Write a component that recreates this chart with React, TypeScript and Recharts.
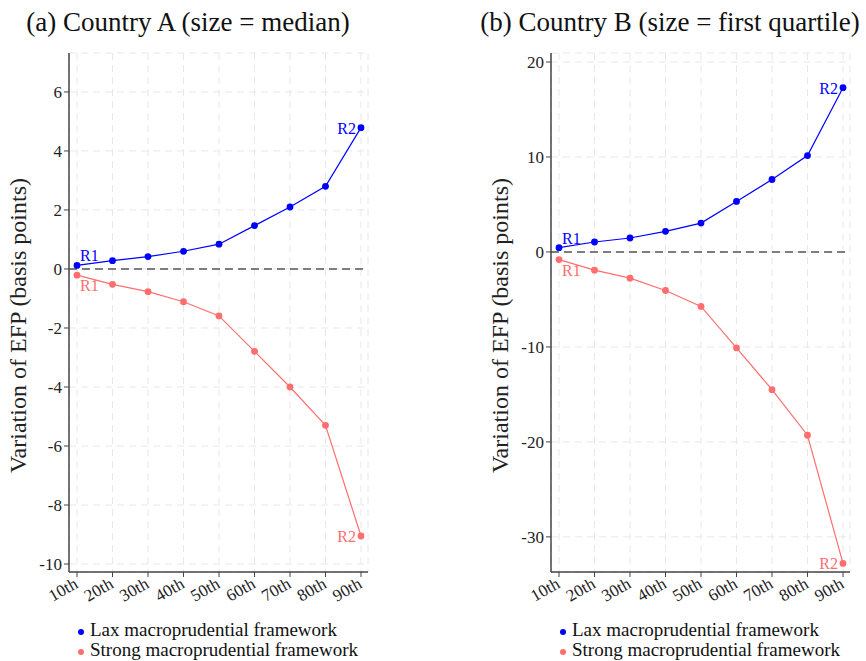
import { LineChart, Line, XAxis, YAxis, CartesianGrid, ReferenceLine } from "recharts"

const percentiles = ["10th", "20th", "30th", "40th", "50th", "60th", "70th", "80th", "90th"]

// Country A (size = median)
const laxA = [0.12, 0.28, 0.42, 0.6, 0.84, 1.47, 2.1, 2.8, 4.79]
const strongA = [-0.21, -0.52, -0.77, -1.11, -1.59, -2.79, -4.0, -5.3, -9.05]
const ticksA = [-10, -8, -6, -4, -2, 0, 2, 4, 6]

// Country B (size = first quartile)
const laxB = [0.45, 1.05, 1.47, 2.17, 3.04, 5.32, 7.63, 10.15, 17.3]
const strongB = [-0.8, -1.92, -2.76, -4.06, -5.74, -10.1, -14.5, -19.3, -32.8]
const ticksB = [-30, -20, -10, 0, 10, 20]

const BLUE = "#0000ff"
const SALMON = "#ff6e6e"
const FONT = "Liberation Serif"
const AXIS = "#444"

const AngledTick = ({ x, y, payload }: any) => (
  <g transform={`translate(${x + 2},${y + 8})`}>
    <text x={0} y={0} textAnchor="end" fill="#222" fontSize={17} fontFamily={FONT} transform="rotate(-30)">
      {payload.value}
    </text>
  </g>
)

const makeDot = (color: string, below: boolean) => (p: any) => {
  const { cx, cy, index } = p
  let label = null
  if (index === 0) {
    label = (
      <text x={cx + 3} y={below ? cy + 16 : cy - 4} fill={color} fontSize={16} fontFamily={FONT}>
        R1
      </text>
    )
  } else if (index === percentiles.length - 1) {
    label = (
      <text x={cx - 5} y={cy + 6} textAnchor="end" fill={color} fontSize={16} fontFamily={FONT}>
        R2
      </text>
    )
  }
  return (
    <g key={`d-${index}`}>
      <circle cx={cx} cy={cy} r={3.4} fill={color} />
      {label}
    </g>
  )
}

const YLabel = (props: any) => {
  const vb = props.viewBox
  const x = vb.x + 26
  const y = vb.y + vb.height / 2 + 13
  return (
    <text x={x} y={y} transform={`rotate(-90, ${x}, ${y})`} textAnchor="middle" fill="#222" fontSize={24} fontFamily={FONT}>
      Variation of EFP (basis points)
    </text>
  )
}

function Panel({ left, title, titleCenter, lax, strong, domain, ticks }: any) {
  const data = percentiles.map((p, i) => ({ name: p, lax: lax[i], strong: strong[i] }))
  return (
    <>
      <div
        style={{
          position: "absolute",
          left: titleCenter - 250,
          width: 500,
          top: 7,
          textAlign: "center",
          fontFamily: FONT,
          fontSize: 27,
          whiteSpace: "nowrap",
          color: "#111",
        }}
      >
        {title}
      </div>
      <div style={{ position: "absolute", left, top: 0 }}>
        <LineChart width={384} height={640} data={data} margin={{ top: 53, right: 16, bottom: 0, left: 0 }}>
          <CartesianGrid stroke="#e8e8e8" strokeDasharray="7 5" />
          <XAxis
            dataKey="name"
            padding={{ left: 8, right: 7 }}
            height={68}
            tickSize={5}
            tickLine={{ stroke: AXIS }}
            axisLine={{ stroke: AXIS, strokeWidth: 1.5 }}
            interval={0}
            tick={<AngledTick />}
          />
          <YAxis
            type="number"
            domain={domain}
            ticks={ticks}
            allowDataOverflow
            width={69}
            tickSize={5}
            tickLine={{ stroke: AXIS }}
            axisLine={{ stroke: AXIS, strokeWidth: 1.5 }}
            tick={{ fontSize: 17, fill: "#222", fontFamily: FONT }}
            label={YLabel}
          />
          <ReferenceLine y={0} stroke="#555" strokeWidth={1.5} strokeDasharray="8 5" />
          <Line
            dataKey="lax"
            stroke={BLUE}
            strokeWidth={1.2}
            dot={makeDot(BLUE, false)}
            activeDot={false}
            isAnimationActive={false}
          />
          <Line
            dataKey="strong"
            stroke={SALMON}
            strokeWidth={1.2}
            dot={makeDot(SALMON, true)}
            activeDot={false}
            isAnimationActive={false}
          />
        </LineChart>
      </div>
      <Legend left={left + 81} />
    </>
  )
}

function Legend({ left }: { left: number }) {
  const rows = [
    { label: "Lax macroprudential framework", color: BLUE },
    { label: "Strong macroprudential framework", color: SALMON },
  ]
  return (
    <>
      {rows.map((r, i) => (
        <div
          key={r.label}
          style={{
            position: "absolute",
            left: left - 3,
            top: 620 + i * 20,
            height: 20,
            lineHeight: "20px",
            fontFamily: FONT,
            fontSize: 19,
            color: "#111",
            whiteSpace: "nowrap",
          }}
        >
          <span
            style={{
              display: "inline-block",
              width: 6,
              height: 6,
              borderRadius: 3,
              background: r.color,
              marginRight: 6,
              verticalAlign: "1px",
            }}
          />
          {r.label}
        </div>
      ))}
    </>
  )
}

export default function App() {
  return (
    <div style={{ position: "absolute", left: 0, top: 0, width: 866, height: 661, overflow: "hidden", background: "#fff" }}>
      <Panel
        left={0}
        title="(a) Country A (size = median)"
        titleCenter={188}
        lax={laxA}
        strong={strongA}
        domain={[-10.27, 7.32]}
        ticks={ticksA}
      />
      <Panel
        left={482}
        title="(b) Country B (size = first quartile)"
        titleCenter={670}
        lax={laxB}
        strong={strongB}
        domain={[-33.7, 20.95]}
        ticks={ticksB}
      />
    </div>
  )
}
